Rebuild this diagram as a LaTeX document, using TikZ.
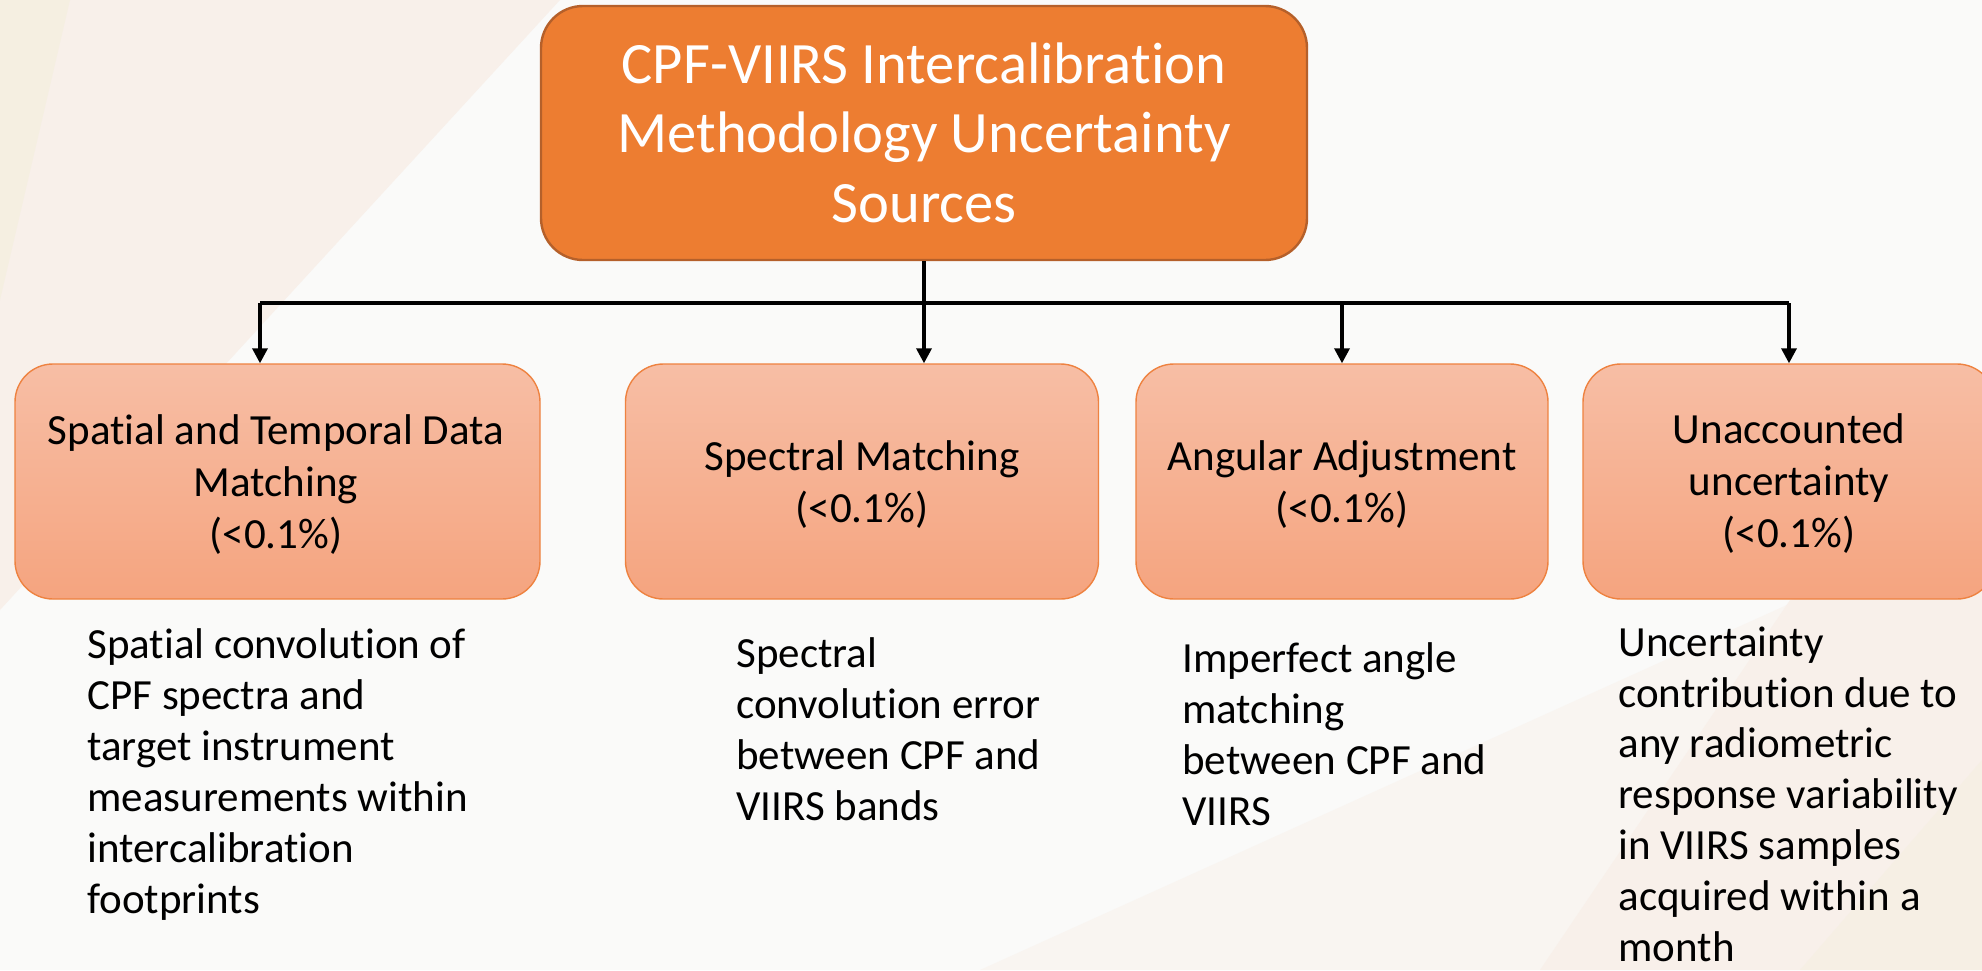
\documentclass[tikz,border=0pt]{standalone}
\usepackage{fontspec}
\setmainfont{Carlito}[Ligatures={NoCommon,NoRare,NoContextual}]
\usetikzlibrary{arrows.meta}
\definecolor{bgbase}{HTML}{FAFAF9}
\definecolor{bgpeach}{HTML}{F8F0EA}
\definecolor{bgfaint}{HTML}{F9F5F1}
\definecolor{bgcream}{HTML}{F5EFE1}
\definecolor{toporange}{HTML}{ED7D31}
\definecolor{topborder}{HTML}{B5602A}
\definecolor{boxtop}{HTML}{F7BEA5}
\definecolor{boxbot}{HTML}{F5A47F}
\definecolor{boxborder}{HTML}{EE8240}
\tikzset{
  topbox/.style={draw=topborder, line width=1.2pt, fill=toporange, rounded corners=21pt,
    minimum width=383pt, minimum height=127pt, inner sep=0pt},
  toptext/.style={anchor=base, inner sep=0pt, align=center, text=white,
    font=\fontsize{29.3}{34.75}\selectfont},
  srcbox/.style={draw=boxborder, line width=0.7pt, top color=boxtop, bottom color=boxbot,
    rounded corners=19pt, minimum height=117.5pt, inner sep=0pt},
  srctext/.style={anchor=base, inner sep=0pt, align=center, text=black,
    font=\fontsize{21.5}{25.85}\selectfont},
  desc/.style={anchor=base west, inner sep=0pt, align=left, text=black,
    font=\fontsize{21.5}{25.5}\selectfont},
  bus/.style={line width=1.7pt, draw=black},
  arr/.style={line width=1.7pt, draw=black, -{Triangle[width=7.5pt,length=7.5pt]}}
}
\begin{document}
\begin{tikzpicture}[x=0.5pt,y=-0.5pt]
\clip (0,0) rectangle (1982,970);
% background
\fill[bgbase] (0,0) rectangle (1982,970);
\fill[bgpeach] (0,0) -- (560,0) -- (0,610) -- cycle;
\fill[bgcream] (0,0) -- (70,0) -- (0,300) -- cycle;
\fill[bgfaint] (980,970) -- (1820,590) -- (1982,545) -- (1982,970) -- cycle;
\fill[bgpeach] (1540,970) -- (1790,600) -- (1982,560) -- (1982,970) -- cycle;
\fill[bgcream!60!bgpeach] (1800,970) -- (1982,760) -- (1982,970) -- cycle;

% boxes
\node[topbox] (top) at (924,133) {};
\node[srcbox, minimum width=262.5pt] (b1) at (277.5,481.5) {};
\node[srcbox, minimum width=236.5pt] (b2) at (862,481.5) {};
\node[srcbox, minimum width=206pt] (b3) at (1342,481.5) {};
\node[srcbox, minimum width=206pt] (b4) at (1789,481.5) {};

% box texts (anchored at the baseline of their last line)
\node[toptext] (topt) at (924,222) {CPF-VIIRS Intercalibration\\Methodology Uncertainty\\Sources};
\node[srctext] (t1) at (276,548) {Spatial and Temporal Data\\Matching\\(<0.1\%)};
\node[srctext] (t2) at (862,522) {Spectral Matching\\(<0.1\%)};
\node[srctext] (t3) at (1342,522) {Angular Adjustment\\(<0.1\%)};
\node[srctext] (t4) at (1789,547) {Unaccounted\\uncertainty\\(<0.1\%)};

% descriptions
\node[desc] (d1) at (87,913) {Spatial convolution of\\CPF spectra and\\target instrument\\measurements within\\intercalibration\\footprints};
\node[desc] (d2) at (736,820) {Spectral\\convolution error\\between CPF and\\VIIRS bands};
\node[desc] (d3) at (1182,825) {Imperfect angle\\matching\\between CPF and\\VIIRS};
\node[desc, font=\fontsize{21.5}{25.4}\selectfont] (d4) at (1618,961) {Uncertainty\\contribution due to\\any radiometric\\response variability\\in VIIRS samples\\acquired within a\\month};

% connectors
\coordinate (c1) at (260,303);
\coordinate (c3) at (1342,303);
\coordinate (c4) at (1789,303);
\draw[bus] (c1) -- (c4);
\draw[arr] (top.south) -- (top.south |- b2.north);
\draw[arr] (c1) -- (c1 |- b1.north);
\draw[arr] (c3) -- (c3 |- b3.north);
\draw[arr] (c4) -- (c4 |- b4.north);
\end{tikzpicture}
\end{document}
